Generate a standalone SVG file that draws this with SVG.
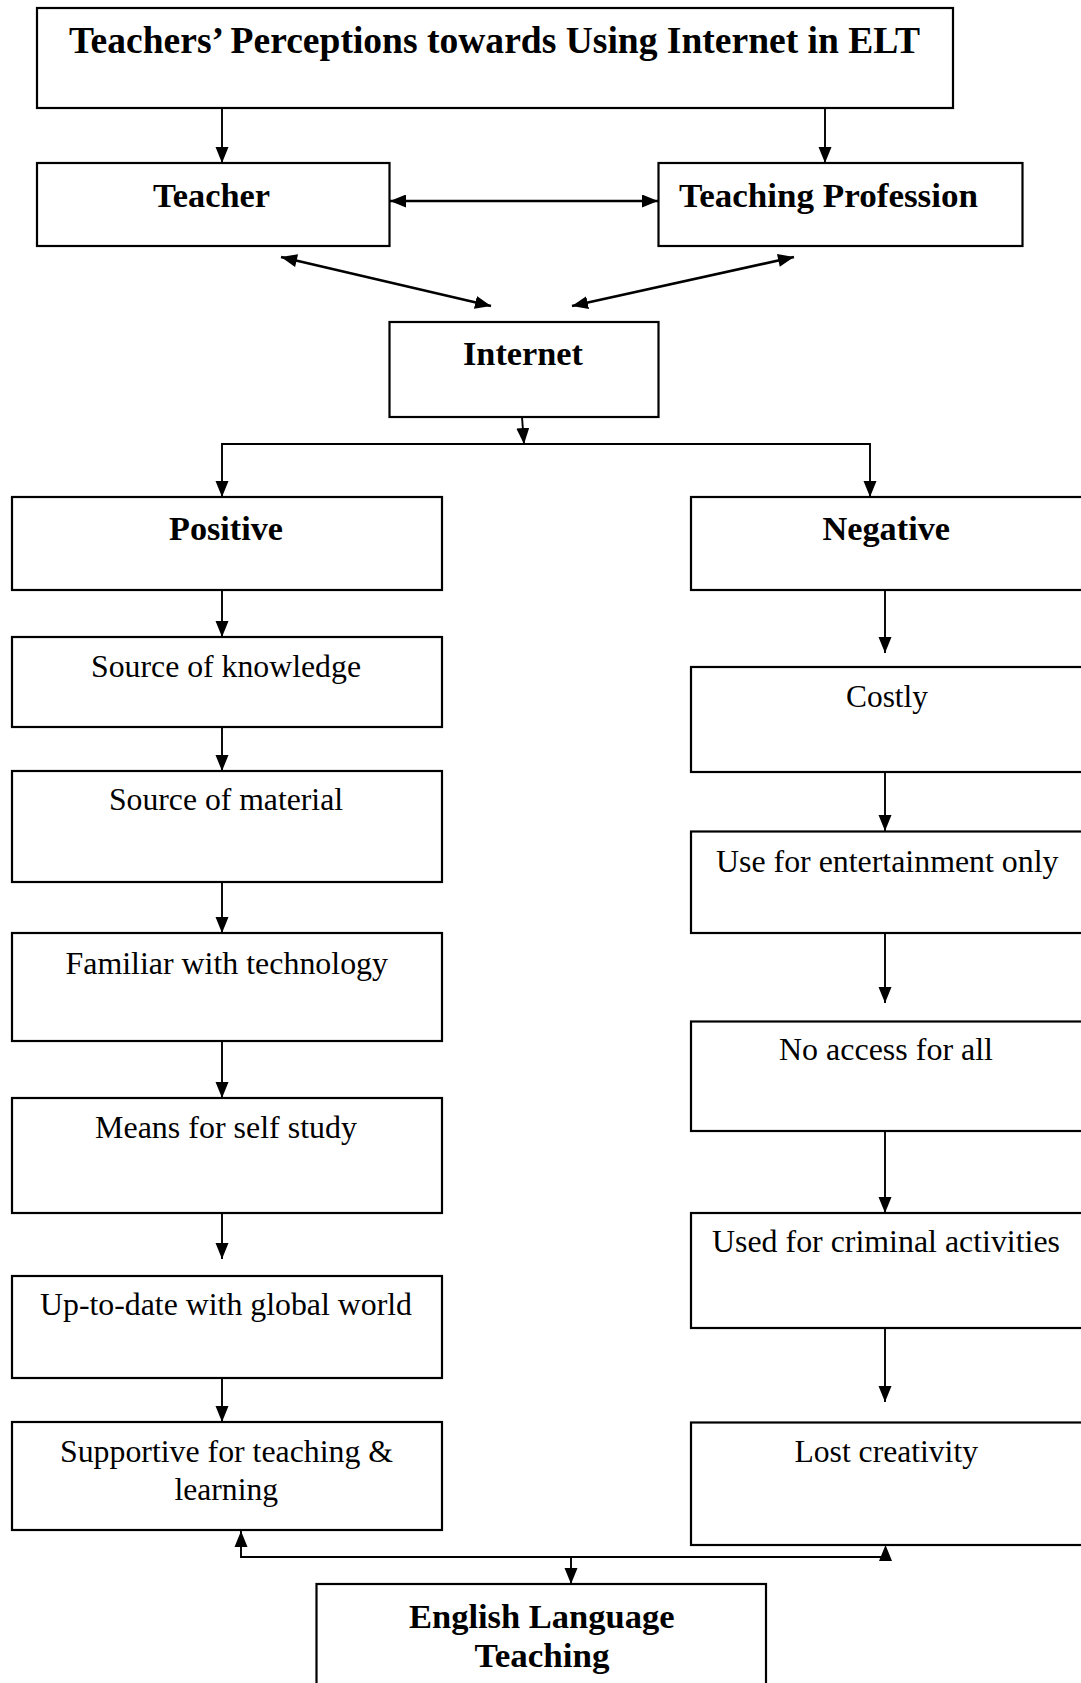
<svg xmlns="http://www.w3.org/2000/svg" width="1081" height="1683" viewBox="0 0 1081 1683">
<style>
.box{fill:#fff;stroke:#000;stroke-width:2.2}
.b{font-family:"Liberation Serif","Times New Roman",serif;font-weight:bold;font-size:34px;fill:#000}
.r{font-family:"Liberation Serif","Times New Roman",serif;font-size:32px;fill:#000}
.c{fill:none;stroke:#000;stroke-width:1.9}
.c2{fill:none;stroke:#000;stroke-width:2.6}
.ah{fill:#000}
</style>
<defs>
<marker id="a" markerUnits="userSpaceOnUse" markerWidth="18" markerHeight="14" refX="16" refY="6.5" orient="auto"><path d="M0,0 L16,6.5 L0,13 z" fill="#000"/></marker>
<marker id="as" markerUnits="userSpaceOnUse" markerWidth="18" markerHeight="14" refX="0" refY="6.5" orient="auto"><path d="M16,0 L0,6.5 L16,13 z" fill="#000"/></marker>
</defs>
<rect x="0" y="0" width="1081" height="1683" fill="#fff"/>
<g id="connectors">
<line class="c" x1="222" y1="108" x2="222" y2="163" marker-end="url(#a)"/>
<line class="c" x1="825" y1="108" x2="825" y2="163" marker-end="url(#a)"/>
<line class="c2" x1="390" y1="201" x2="658" y2="201" marker-start="url(#as)" marker-end="url(#a)"/>
<line class="c2" x1="281" y1="257" x2="491" y2="306" marker-start="url(#as)" marker-end="url(#a)"/>
<line class="c2" x1="794" y1="257" x2="572" y2="306" marker-start="url(#as)" marker-end="url(#a)"/>
<line class="c" x1="522" y1="417" x2="524" y2="444" marker-end="url(#a)"/>
<path class="c" d="M222,497 V444 H870 V497"/>
<polygon class="ah" points="215.5,481 228.5,481 222,497"/>
<polygon class="ah" points="863.5,481 876.5,481 870,497"/>
<line class="c" x1="222" y1="590" x2="222" y2="637" marker-end="url(#a)"/>
<line class="c" x1="222" y1="727" x2="222" y2="771" marker-end="url(#a)"/>
<line class="c" x1="222" y1="882" x2="222" y2="933" marker-end="url(#a)"/>
<line class="c" x1="222" y1="1041" x2="222" y2="1098" marker-end="url(#a)"/>
<line class="c" x1="222" y1="1213" x2="222" y2="1259" marker-end="url(#a)"/>
<line class="c" x1="222" y1="1378" x2="222" y2="1422" marker-end="url(#a)"/>
<line class="c" x1="885" y1="590" x2="885" y2="653" marker-end="url(#a)"/>
<line class="c" x1="885" y1="772" x2="885" y2="831" marker-end="url(#a)"/>
<line class="c" x1="885" y1="933" x2="885" y2="1003" marker-end="url(#a)"/>
<line class="c" x1="885" y1="1131" x2="885" y2="1213" marker-end="url(#a)"/>
<line class="c" x1="885" y1="1328" x2="885" y2="1402" marker-end="url(#a)"/>
<path class="c" d="M241,1531 V1557 H885.5"/>
<polygon class="ah" points="234.5,1547 247.5,1547 241,1531"/>
<polygon class="ah" points="879,1561 892,1561 885.5,1545"/>
<line class="c" x1="571" y1="1557" x2="571" y2="1584" marker-end="url(#a)"/>
</g>
<g id="title"><rect class="box" x="37" y="8" width="916" height="100"/><text class="b" x="69" y="53" textLength="851" lengthAdjust="spacingAndGlyphs" style="font-size:37px">Teachers’ Perceptions towards Using Internet in ELT</text></g>
<g id="teacher"><rect class="box" x="37" y="163" width="352.5" height="83"/><text class="b" x="153" y="207" textLength="117" lengthAdjust="spacingAndGlyphs">Teacher</text></g>
<g id="profession"><rect class="box" x="658.5" y="163" width="364" height="83"/><text class="b" x="679" y="207" textLength="299" lengthAdjust="spacingAndGlyphs">Teaching Profession</text></g>
<g id="internet"><rect class="box" x="389.5" y="322" width="269" height="95"/><text class="b" x="463" y="365" textLength="120" lengthAdjust="spacingAndGlyphs">Internet</text></g>
<g id="positive"><rect class="box" x="12" y="497" width="430" height="93"/><text class="b" x="169" y="540" textLength="114" lengthAdjust="spacingAndGlyphs">Positive</text></g>
<g id="negative"><rect class="box" x="691" y="497" width="400" height="93"/><text class="b" x="822.5" y="540" textLength="127.5" lengthAdjust="spacingAndGlyphs">Negative</text></g>
<g id="knowledge"><rect class="box" x="12" y="637" width="430" height="90"/><text class="r" x="91" y="677" textLength="270" lengthAdjust="spacingAndGlyphs">Source of knowledge</text></g>
<g id="material"><rect class="box" x="12" y="771" width="430" height="111"/><text class="r" x="109" y="810" textLength="234" lengthAdjust="spacingAndGlyphs">Source of material</text></g>
<g id="familiar"><rect class="box" x="12" y="933" width="430" height="108"/><text class="r" x="65.5" y="974" textLength="322.5" lengthAdjust="spacingAndGlyphs">Familiar with technology</text></g>
<g id="selfstudy"><rect class="box" x="12" y="1098" width="430" height="115"/><text class="r" x="95" y="1138" textLength="262" lengthAdjust="spacingAndGlyphs">Means for self study</text></g>
<g id="uptodate"><rect class="box" x="12" y="1276" width="430" height="102"/><text class="r" x="40" y="1315" textLength="372" lengthAdjust="spacingAndGlyphs">Up-to-date with global world</text></g>
<g id="supportive"><rect class="box" x="12" y="1422" width="430" height="108"/><text class="r" x="60" y="1462" textLength="333" lengthAdjust="spacingAndGlyphs">Supportive for teaching &amp;</text><text class="r" x="174.5" y="1500" textLength="103.5" lengthAdjust="spacingAndGlyphs">learning</text></g>
<g id="costly"><rect class="box" x="691" y="667" width="400" height="105"/><text class="r" x="846" y="707" textLength="82" lengthAdjust="spacingAndGlyphs">Costly</text></g>
<g id="entertainment"><rect class="box" x="691" y="831.5" width="400" height="101.5"/><text class="r" x="716" y="872" textLength="342.5" lengthAdjust="spacingAndGlyphs">Use for entertainment only</text></g>
<g id="noaccess"><rect class="box" x="691" y="1021.5" width="400" height="109.5"/><text class="r" x="779" y="1060" textLength="214" lengthAdjust="spacingAndGlyphs">No access for all</text></g>
<g id="criminal"><rect class="box" x="691" y="1213" width="400" height="115"/><text class="r" x="712" y="1252" textLength="348" lengthAdjust="spacingAndGlyphs">Used for criminal activities</text></g>
<g id="creativity"><rect class="box" x="691" y="1422.5" width="400" height="122.5"/><text class="r" x="794.5" y="1462" textLength="183.5" lengthAdjust="spacingAndGlyphs">Lost creativity</text></g>
<g id="elt"><rect class="box" x="316.5" y="1584" width="449.5" height="110"/><text class="b" x="409" y="1628" textLength="265.5" lengthAdjust="spacingAndGlyphs">English Language</text><text class="b" x="474.5" y="1667" textLength="135" lengthAdjust="spacingAndGlyphs">Teaching</text></g>
</svg>
